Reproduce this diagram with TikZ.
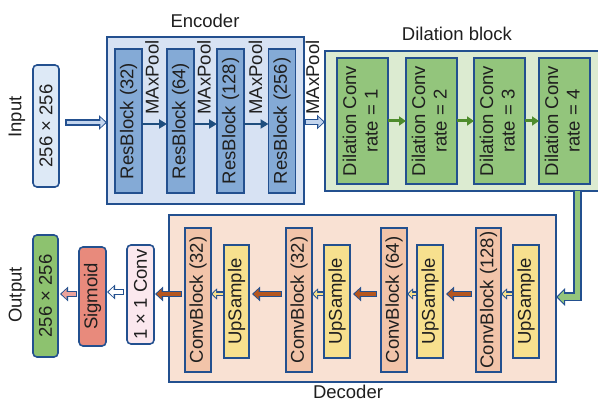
\documentclass[tikz,border=0pt]{standalone}
\usepackage{fontspec}
\setmainfont{Liberation Sans}
\usetikzlibrary{arrows.meta,calc}
\definecolor{bdr}{HTML}{23508F}
\definecolor{encfill}{HTML}{D7E2F3}
\definecolor{resfill}{HTML}{84AAD6}
\definecolor{infill}{HTML}{DDE9F6}
\definecolor{arrblue}{HTML}{C3D5EE}
\definecolor{solblue}{HTML}{1F4E7E}
\definecolor{dilfill}{HTML}{DCEBD1}
\definecolor{dconv}{HTML}{93C57C}
\definecolor{dgreen}{HTML}{4E8C2C}
\definecolor{decfill}{HTML}{F9E1D3}
\definecolor{cbfill}{HTML}{F2C4A9}
\definecolor{upfill}{HTML}{F7E08E}
\definecolor{brown}{HTML}{B5561F}
\definecolor{convpink}{HTML}{FBE8EE}
\definecolor{sigfill}{HTML}{E88A7C}
\definecolor{pinkarr}{HTML}{EBA39C}
\definecolor{outfill}{HTML}{8DC26F}
\newcommand\vtext[1]{\rotatebox{90}{#1}}
\newcommand\vtwo[2]{\rotatebox{90}{\begin{tabular}{@{}c@{}}#1\\[-0.5pt]#2\end{tabular}}}
\begin{document}
\begin{tikzpicture}[x=1pt,y=-1pt,
  font=\fontsize{18.5}{22}\selectfont,
  box/.style={draw=bdr, line width=1.6pt, inner sep=0pt, outer sep=0pt, text=black!88},
  container/.style={draw=bdr, line width=1.8pt, inner sep=0pt, outer sep=0pt},
  rbox/.style={box, rounded corners=4pt},
  lbl/.style={inner sep=0pt, text=black!88},
  outerA/.style={bdr, line width=6.5pt, line join=miter, -{Triangle[length=8pt 0, width=14pt 0]}},
  innerA/.style={line width=3.5pt, line join=miter, shorten <=1.5pt, shorten >=1.6pt, -{Triangle[length=5pt 0, width=9.5pt 0]}},
  outerG/.style={bdr, line width=9pt, line join=miter, -{Triangle[length=9pt 0, width=17pt 0]}},
  innerG/.style={line width=5.5pt, line join=miter, shorten <=1.5pt, shorten >=1.8pt, -{Triangle[length=6pt 0, width=12pt 0]}},
  outerS/.style={bdr, line width=5pt, line join=miter, -{Triangle[length=6pt 0, width=11pt 0]}},
  innerS/.style={line width=2.4pt, line join=miter, shorten <=1.3pt, shorten >=1.5pt, -{Triangle[length=3.6pt 0, width=7pt 0]}},
  solidB/.style={solblue, line width=2.6pt, -{Triangle[length=8pt 0, width=9pt 0]}},
  solidG/.style={dgreen, line width=3pt, -{Triangle[length=7pt 0, width=9pt 0]}}
]
\useasboundingbox[fill=white] (0,0) rectangle (598,403);

% ---------- Input ----------
\node[lbl] (inlbl) at (17,117) {\vtext{Input}};
\node[rbox, fill=infill, minimum width=26pt, minimum height=122pt] (inp) at (46,126) {\vtext{256 × 256}};

% ---------- Encoder ----------
\node[container, fill=encfill, minimum width=197pt, minimum height=167pt] (enc) at (205.5,120.5) {};
\node[lbl] (enclbl) at (205,21) {Encoder};
\node[box, fill=resfill, minimum width=27pt, minimum height=144pt] (r1) at (128.5,121) {\vtext{ResBlock (32)}};
\node[box, fill=resfill, minimum width=27pt, minimum height=144pt] (r2) at (180.5,121) {\vtext{ResBlock (64)}};
\node[box, fill=resfill, minimum width=27pt, minimum height=144pt] (r3) at (230.5,121) {\vtext{ResBlock (128)}};
\node[box, fill=resfill, minimum width=27pt, minimum height=144pt] (r4) at (282,121) {\vtext{ResBlock (256)}};
\node[lbl] (m1) at (152,77.5) {\vtext{MAxPool}};
\node[lbl] (m2) at (204,77.5) {\vtext{MAxPool}};
\node[lbl] (m3) at (255.5,77.5) {\vtext{MAxPool}};
\node[lbl] (m4) at (312.5,77.5) {\vtext{MAxPool}};
\draw[solidB] (r1.east |- 0,124) -- (r2.west |- 0,124);
\draw[solidB] (r2.east |- 0,124) -- (r3.west |- 0,124);
\draw[solidB] (r3.east |- 0,124) -- (r4.west |- 0,124);

% ---------- Dilation block ----------
\node[container, fill=dilfill, minimum width=280pt, minimum height=140pt] (dil) at (465,121) {};
\node[lbl] (dillbl) at (457,34) {Dilation block};
\node[box, fill=dconv, minimum width=51pt, minimum height=126pt] (d1) at (362.5,121) {\vtwo{Dilation Conv}{rate = 1}};
\node[box, fill=dconv, minimum width=51pt, minimum height=126pt] (d2) at (431.5,121) {\vtwo{Dilation Conv}{rate = 2}};
\node[box, fill=dconv, minimum width=51pt, minimum height=126pt] (d3) at (499.5,121) {\vtwo{Dilation Conv}{rate = 3}};
\node[box, fill=dconv, minimum width=51pt, minimum height=126pt] (d4) at (564.5,121) {\vtwo{Dilation Conv}{rate = 4}};
\draw[solidG] (d1.east |- 0,121) -- (d2.west |- 0,121);
\draw[solidG] (d2.east |- 0,121) -- (d3.west |- 0,121);
\draw[solidG] (d3.east |- 0,121) -- (d4.west |- 0,121);

% encoder connectors
\coordinate (a1s) at ($(inp.east |- 0,122.5)+(6,0)$);
\draw[outerA] (a1s) -- (enc.west |- 0,122.5);
\draw[innerA, arrblue] (a1s) -- (enc.west |- 0,122.5);
\draw[outerA] (enc.east |- 0,122) -- (dil.west |- 0,122);
\draw[innerA, arrblue] (enc.east |- 0,122) -- (dil.west |- 0,122);

% ---------- Decoder ----------
\node[container, fill=decfill, minimum width=387pt, minimum height=167pt] (dec) at (362.5,298.5) {};
\node[lbl] (declbl) at (348,392) {Decoder};
\node[box, fill=cbfill, minimum width=26pt, minimum height=144pt] (c1) at (198,300) {\vtext{ConvBlock (32)}};
\node[box, fill=upfill, minimum width=25pt, minimum height=113pt] (u1) at (236.5,301.5) {\vtext{UpSample}};
\node[box, fill=cbfill, minimum width=26pt, minimum height=144pt] (c2) at (299,300) {\vtext{ConvBlock (32)}};
\node[box, fill=upfill, minimum width=26pt, minimum height=113pt] (u2) at (337,301.5) {\vtext{UpSample}};
\node[box, fill=cbfill, minimum width=26pt, minimum height=144pt] (c3) at (394,300) {\vtext{ConvBlock (64)}};
\node[box, fill=upfill, minimum width=26pt, minimum height=113pt] (u3) at (430,301.5) {\vtext{UpSample}};
\node[box, fill=cbfill, minimum width=25pt, minimum height=144pt] (c4) at (488.5,300) {\vtext{ConvBlock (128)}};
\node[box, fill=upfill, minimum width=26pt, minimum height=113pt] (u4) at (526,301.5) {\vtext{UpSample}};

% green connector dilation -> decoder
\coordinate (gtop) at (577.5,190);
\coordinate (gcorner) at (577.5,297);
\draw[outerG] (gtop) -- (gcorner) -- (dec.east |- gcorner);
\draw[innerG, dconv] (gtop) -- (gcorner) -- (dec.east |- gcorner);

% small yellow arrows
\foreach \u/\c in {u1/c1,u2/c2,u3/c3,u4/c4}{
  \draw[outerS] (\u.west |- 0,294) -- (\c.east |- 0,294);
  \draw[innerS, upfill] (\u.west |- 0,294) -- (\c.east |- 0,294);
}
% brown arrows
\foreach \c/\u in {c4/u3,c3/u2,c2/u1}{
  \draw[outerA, shorten <=4pt, shorten >=3pt] (\c.west |- 0,294) -- (\u.east |- 0,294);
  \draw[innerA, brown, shorten <=5.5pt, shorten >=4.6pt] (\c.west |- 0,294) -- (\u.east |- 0,294);
}

% ---------- Output side ----------
\node[rbox, fill=convpink, minimum width=27pt, minimum height=99pt] (conv) at (140.5,294.5) {\vtext{1 × 1 Conv}};
\node[rbox, fill=sigfill, minimum width=27pt, minimum height=99pt] (sig) at (92.5,296.5) {\vtext{Sigmoid}};
\node[rbox, fill=outfill, minimum width=25pt, minimum height=122pt] (out) at (45.5,296) {\vtext{256 × 256}};
\node[lbl] (outlbl) at (17,295) {\vtext{Output}};

\draw[outerA, shorten <=3pt, shorten >=1pt] (c1.west |- 0,294) -- (conv.east |- 0,294);
\draw[innerA, brown, shorten <=4.5pt, shorten >=2.6pt] (c1.west |- 0,294) -- (conv.east |- 0,294);
\draw[outerA, shorten <=3pt, shorten >=1pt] (conv.west |- 0,292) -- (sig.east |- 0,292);
\draw[innerA, white, shorten <=4.5pt, shorten >=2.6pt] (conv.west |- 0,292) -- (sig.east |- 0,292);
\draw[outerA, shorten <=2pt, shorten >=2pt] (sig.west |- 0,294) -- (out.east |- 0,294);
\draw[innerA, pinkarr, shorten <=3.5pt, shorten >=3.6pt] (sig.west |- 0,294) -- (out.east |- 0,294);
\end{tikzpicture}
\end{document}
